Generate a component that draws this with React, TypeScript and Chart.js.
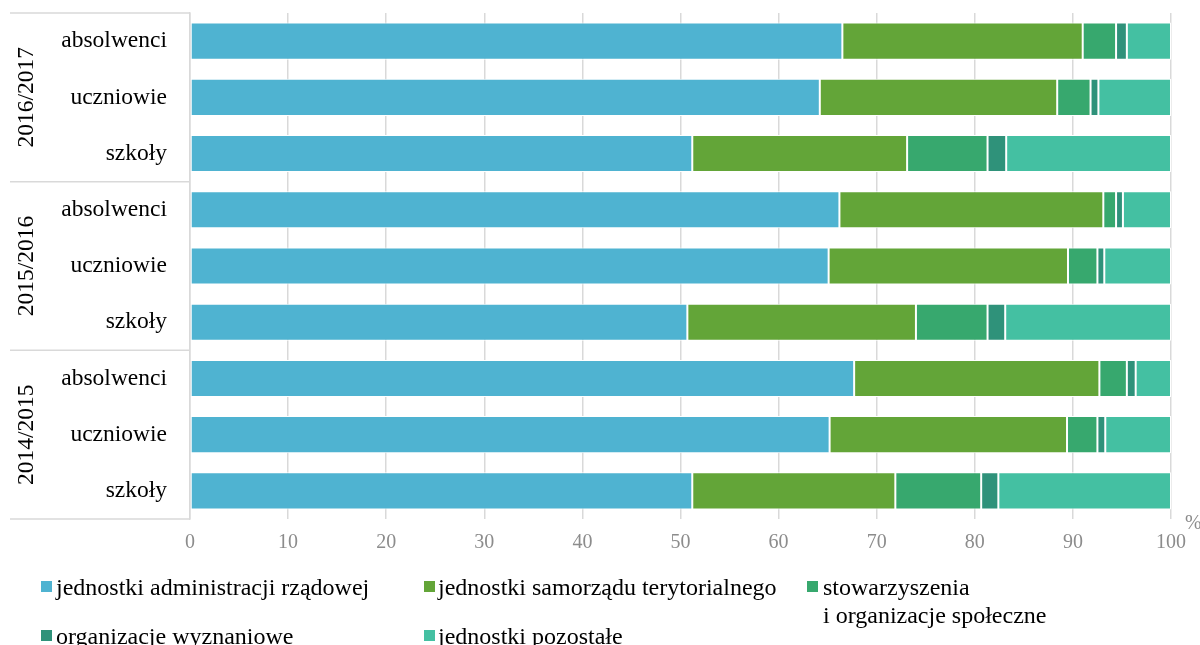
import React, { useEffect, useRef } from "react";
import { Chart, registerables } from "chart.js";

Chart.register(...registerables);

const categories = [
  "absolwenci", "uczniowie", "szkoły",
  "absolwenci", "uczniowie", "szkoły",
  "absolwenci", "uczniowie", "szkoły",
];
const years = ["2016/2017", "2015/2016", "2014/2015"];

const rzadowe = [66.5, 64.2, 51.2, 66.2, 65.1, 50.7, 67.7, 65.2, 51.2];
const samorzad = [24.5, 24.2, 21.9, 26.9, 24.4, 23.3, 25.0, 24.2, 20.7];
const stowarzyszenia = [3.4, 3.4, 8.2, 1.3, 3.0, 7.3, 2.8, 3.1, 8.75];
const wyznaniowe = [1.1, 0.8, 1.9, 0.7, 0.7, 1.8, 0.9, 0.8, 1.75];
const pozostale = [4.5, 7.4, 16.8, 4.9, 6.8, 16.9, 3.6, 6.7, 17.6];

const xTicks = [0, 10, 20, 30, 40, 50, 60, 70, 80, 90, 100];

const seriesNames = [
  "jednostki administracji rządowej",
  "jednostki samorządu terytorialnego",
  "stowarzyszenia\ni organizacje społeczne",
  "organizacje wyznaniowe",
  "jednostki pozostałe",
];
const colors = ["#4FB3D1", "#63A538", "#37A86E", "#2F927A", "#44C0A2"];

const FONT = "'Liberation Serif', 'Times New Roman', serif";

const groupPlugin = {
  id: "groupPlugin",
  afterDraw(chart: any) {
    const { ctx, chartArea } = chart;
    const n = categories.length;
    const step = (chartArea.bottom - chartArea.top) / n;
    ctx.save();
    ctx.strokeStyle = "#d9d9d9";
    ctx.lineWidth = 1.5;
    for (let g = 0; g <= years.length; g++) {
      const yy = chartArea.top + g * 3 * step;
      ctx.beginPath();
      ctx.moveTo(10, yy);
      ctx.lineTo(chartArea.left, yy);
      ctx.stroke();
    }
    ctx.fillStyle = "#000";
    ctx.font = `23.5px ${FONT}`;
    ctx.textAlign = "center";
    ctx.textBaseline = "middle";
    years.forEach((yr, g) => {
      const cy = chartArea.top + (g * 3 + 1.5) * step;
      ctx.save();
      ctx.translate(27, cy);
      ctx.rotate(-Math.PI / 2);
      ctx.fillText(yr, 0, 0);
      ctx.restore();
    });
    ctx.fillStyle = "#8c8c8c";
    ctx.font = `20px ${FONT}`;
    ctx.textAlign = "left";
    ctx.textBaseline = "middle";
    ctx.fillText("%", chartArea.right + 14, chartArea.bottom + 5);
    ctx.restore();
  },
};

export default function App() {
  const ref = useRef<HTMLCanvasElement>(null);
  useEffect(() => {
    const ds = [rzadowe, samorzad, stowarzyszenia, wyznaniowe, pozostale].map((d, i) => ({
      label: seriesNames[i],
      data: d,
      backgroundColor: colors[i],
      borderColor: "#ffffff",
      borderWidth: 1,
      borderSkipped: false,
      barPercentage: 0.66,
      categoryPercentage: 1,
    }));
    const chart = new Chart(ref.current!, {
      type: "bar",
      data: { labels: categories, datasets: ds },
      options: {
        indexAxis: "y",
        animation: false,
        responsive: false,
        layout: { padding: { left: 0, top: 13, right: 29, bottom: 86 } },
        plugins: { legend: { display: false }, tooltip: { enabled: false } },
        scales: {
          x: {
            stacked: true,
            min: 0,
            max: 100,
            afterBuildTicks: (s: any) => {
              s.ticks = xTicks.map((v) => ({ value: v }));
            },
            afterFit: (s: any) => {
              s.height = 40;
            },
            grid: { color: "#d9d9d9", lineWidth: 1.5, drawTicks: false },
            border: { display: false },
            ticks: {
              color: "#8c8c8c",
              font: { family: FONT, size: 20 },
              padding: 12,
              maxRotation: 0,
            },
          },
          y: {
            stacked: true,
            afterFit: (s: any) => {
              s.width = 190;
              s.paddingTop = 0;
              s.paddingBottom = 0;
            },
            grid: { display: false },
            border: { display: true, color: "#d9d9d9", width: 1.5 },
            ticks: {
              color: "#000",
              font: { family: FONT, size: 23.5 },
              padding: 15,
            },
          },
        },
      },
      plugins: [groupPlugin],
    });
    return () => chart.destroy();
  }, []);

  const legendPos = [
    { x: 41, y: 587, tx: 56 },
    { x: 424, y: 587, tx: 438 },
    { x: 807, y: 587, tx: 823 },
    { x: 41, y: 636, tx: 56 },
    { x: 424, y: 636, tx: 438 },
  ];

  return (
    <div style={{ position: "absolute", left: 0, top: 0, width: 1200, height: 645, overflow: "hidden", background: "#fff" }}>
      <canvas ref={ref} width={1200} height={645} style={{ display: "block" }} />
      {seriesNames.map((name, i) => (
        <React.Fragment key={i}>
          <span
            style={{
              position: "absolute",
              left: legendPos[i].x,
              top: legendPos[i].y - 6,
              width: 11,
              height: 11,
              background: colors[i],
            }}
          />
          <div
            style={{
              position: "absolute",
              left: legendPos[i].tx,
              top: legendPos[i].y - 14,
              fontFamily: FONT,
              fontSize: 24,
              lineHeight: "28px",
              color: "#000",
              whiteSpace: "pre",
            }}
          >
            {name}
          </div>
        </React.Fragment>
      ))}
    </div>
  );
}
